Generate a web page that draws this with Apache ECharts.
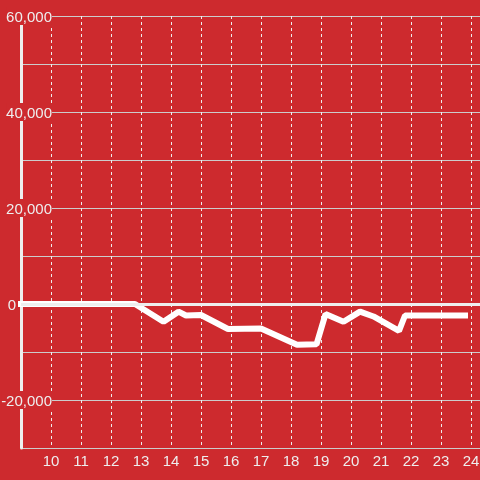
<!DOCTYPE html>
<html>
<head>
<meta charset="utf-8">
<script src="https://cdn.jsdelivr.net/npm/echarts@6/dist/echarts.min.js"></script>
<style>
  html, body { margin: 0; padding: 0; background: #cd2a2e; }
  #chart { width: 480px; height: 480px; }
</style>
</head>
<body>
<div id="chart"></div>
<script>
// values
var xValues = [8.9, 12.8, 13.75, 14.25, 14.5, 15.0, 15.9, 17.0, 18.2, 18.85, 19.15, 19.75, 20.3, 20.75, 21.6, 21.8, 23.9];
var yValues = [0, 0, -3700, -1600, -2400, -2300, -5200, -5100, -8500, -8400, -2100, -3700, -1600, -2600, -5600, -2400, -2400];
var yLabelsShown = [60000, 40000, 20000, 0, -20000];

var red = '#cd2a2e';
var textColor = '#eeeeee';

var points = xValues.map(function (x, i) { return [x, yValues[i]]; });

var chart = echarts.init(document.getElementById('chart'));
chart.setOption({
    backgroundColor: red,
    animation: false,
    grid: {
        top: 16,
        bottom: 32,
        left: 21,
        right: 0,
        containLabel: false,
        outerBoundsMode: 'none'
    },
    xAxis: {
        type: 'value',
        min: 9,
        max: 24.3,
        interval: 1,
        axisLine: { show: false },
        axisTick: { show: false },
        axisLabel: {
            color: textColor,
            fontSize: 15,
            fontFamily: 'Liberation Sans',
            margin: 6,
            showMinLabel: false,
            showMaxLabel: false
        },
        splitLine: {
            show: true,
            lineStyle: { color: '#eeeeee', type: [3, 3], width: 1 }
        }
    },
    yAxis: {
        type: 'value',
        min: -30000,
        max: 60000,
        interval: 10000,
        axisLine: {
            show: true,
            lineStyle: { color: '#eeeeee', width: 3 }
        },
        axisTick: { show: false },
        axisLabel: {
            color: textColor,
            fontSize: 15,
            fontFamily: 'Liberation Sans',
            margin: -31,
            formatter: function (v) {
                if (yLabelsShown.indexOf(v) < 0) return '';
                if (v === 0) return '{z|0}';
                return '{a|' + v.toLocaleString('en-US') + '}';
            },
            rich: {
                a: { backgroundColor: red, color: textColor, fontSize: 15, fontFamily: 'Liberation Sans', lineHeight: 17, padding: [3, 0, 0, 0] },
                z: { color: textColor, fontSize: 15, fontFamily: 'Liberation Sans', lineHeight: 17, padding: [3, 36, 0, 0] }
            }
        },
        splitLine: {
            show: true,
            lineStyle: { color: '#cccccc', width: 1 }
        }
    },
    series: [{
        type: 'line',
        data: points,
        showSymbol: false,
        clip: false,
        lineStyle: { color: '#ffffff', width: 6 },
        markLine: {
            silent: true,
            symbol: 'none',
            label: { show: false },
            lineStyle: { color: '#eeeeee', width: 3, type: 'solid' },
            data: [{ yAxis: 0 }]
        },
        z: 3
    }]
});
</script>
</body>
</html>
